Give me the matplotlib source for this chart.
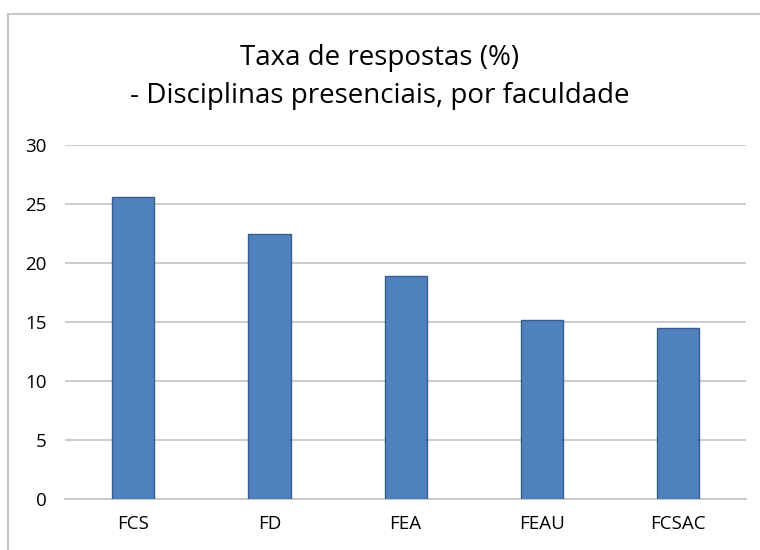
import matplotlib.pyplot as plt
from matplotlib.patches import Rectangle

# Data
faculdades = ['FCS', 'FD', 'FEA', 'FEAU', 'FCSAC']
taxas = [25.6, 22.4, 18.9, 15.1, 14.5]
yticks = [0, 5, 10, 15, 20, 25, 30]

plt.rcParams['font.family'] = ['Open Sans', 'DejaVu Sans']

fig = plt.figure(figsize=(7.6, 5.5), dpi=100)
ax = fig.add_axes([0.0855, 0.0933, 0.8965, 0.6437])

# chart frame (left and top edges visible, rest runs off the image)
fig.patches.append(Rectangle((8 / 760, -0.05), 1.1, 1 - 14 / 550 + 0.05, transform=fig.transFigure,
                             fill=False, edgecolor='#c8c8c8', linewidth=1.5))

ax.bar(range(len(faculdades)), taxas, width=0.31, color='#4f81bd',
       edgecolor='#385d8a', linewidth=1, zorder=3)

ax.set_xlim(-0.5, len(faculdades) - 0.5)
ax.set_ylim(0, 30)
ax.set_yticks(yticks)
ax.set_xticks(range(len(faculdades)))
ax.set_xticklabels(faculdades)
ax.yaxis.grid(True, color='#c8c8c8', linewidth=1.3, zorder=0)
ax.tick_params(axis='both', length=0, labelsize=13.5, colors='black')
ax.tick_params(axis='x', pad=12)
ax.tick_params(axis='y', pad=13)
for s in ['top', 'right', 'left']:
    ax.spines[s].set_visible(False)
ax.spines['bottom'].set_color('#c8c8c8')
ax.spines['bottom'].set_linewidth(1.3)

fig.text(0.5, 1 - 64.5 / 550, 'Taxa de respostas (%)',
         ha='center', va='baseline', fontsize=20)
fig.text(0.5, 1 - 103 / 550, '- Disciplinas presenciais, por faculdade',
         ha='center', va='baseline', fontsize=20)

fig.savefig('out.png', dpi=100)
